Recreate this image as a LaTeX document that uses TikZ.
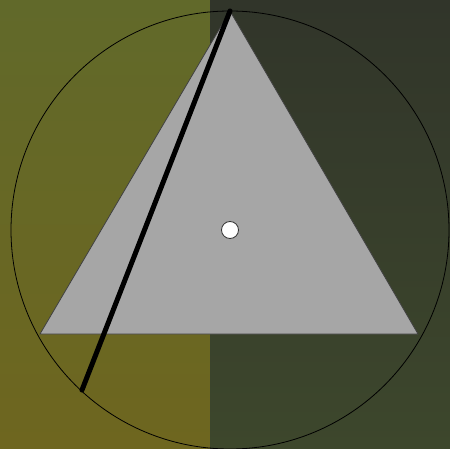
\documentclass[tikz,border=0pt]{standalone}
\usepackage{tikz}
\usetikzlibrary{positioning, calc}
\definecolor{oliveTop}{RGB}{97, 105, 42}
\definecolor{oliveBottom}{RGB}{110, 102, 31}
\definecolor{darkTop}{RGB}{49, 53, 42}
\definecolor{darkBottom}{RGB}{61, 71, 44}
\definecolor{triGray}{RGB}{166, 166, 166}

\begin{document}
\begin{tikzpicture}[x=1pt, y=-1pt]
                \useasboundingbox (0,0) rectangle (450,449);
                % Background halves
                \shade[top color=oliveTop, bottom color=oliveBottom] (0,0) rectangle (210,449);
                \shade[top color=darkTop, bottom color=darkBottom] (210,0) rectangle (450,449);
                
                % Points on the circle
                \coordinate (O) at (230,230);
                \coordinate (apex) at (230,11);
                \coordinate (baseL) at (40,334);
                \coordinate (baseR) at (418,334);
                \coordinate (chordEnd) at (82,390);
                
                % Circle
                \draw[black, line width=0.8pt] (O) circle (219);
                
                % Triangle
                \filldraw[fill=triGray, draw=black!75, line width=0.8pt] (apex) -- (baseL) -- (baseR) -- cycle;
                
                % Thick chord
                \draw[black, line width=5pt, line cap=round] (apex) -- (chordEnd);
                
                % Center dot
                \node[circle, fill=white, draw=black!80, line width=0.8pt, minimum size=17pt, inner sep=0pt] (center) at (O) {};
            \end{tikzpicture}
\end{document}
